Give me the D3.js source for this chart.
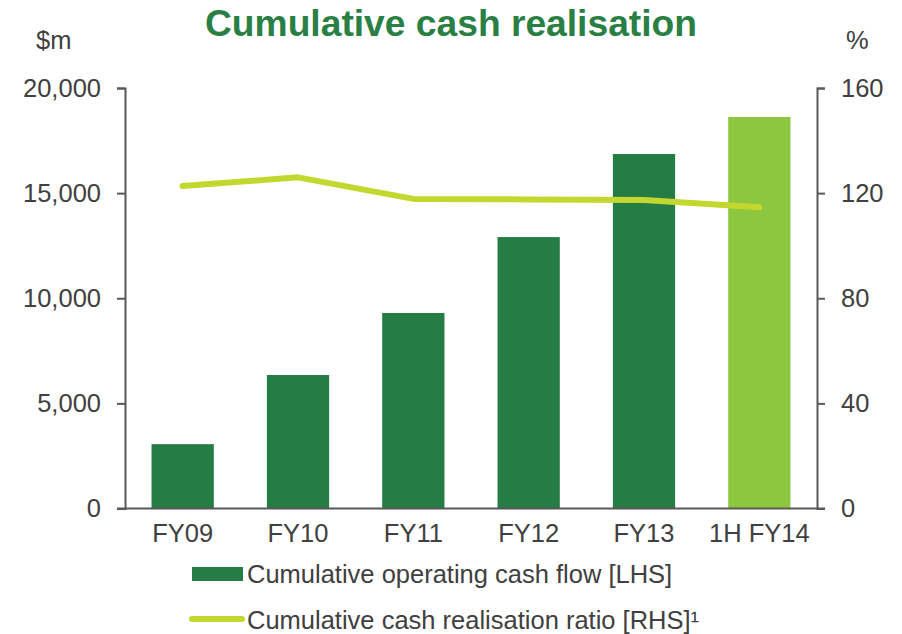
<!DOCTYPE html>
<html>
<head>
<meta charset="utf-8">
<script src="https://cdn.jsdelivr.net/npm/d3@7"></script>
<style>
  body { margin: 0; background: #fff; }
  svg text { font-family: "Liberation Sans", Arial, sans-serif; fill: #404040; }
</style>
</head>
<body>
<div id="chart"></div>
<script>
let categories = ["FY09", "FY10", "FY11", "FY12", "FY13", "1H FY14"];
let cash_flow = [3060, 6350, 9300, 12910, 16860, 18620];
let realisation_ratio = [122.7, 126.0, 117.8, 117.6, 117.4, 114.6];
let left_ticks = [0, 5000, 10000, 15000, 20000];
let right_ticks = [0, 40, 80, 120, 160];

let chart_width = 902;
let chart_height = 634;

let margin_top = 88;
let margin_left = 125;
let margin_right = 85;
let margin_bottom = 125.5;

let width = chart_width - margin_left - margin_right;
let height = chart_height - margin_top - margin_bottom;

let font_size = "25.5px";
let bar_color = "#267c45";
let bar_color_last = "#8dc63f";
let line_color = "#c3d82e";
let axis_color = "#595959";

let svg = d3.select("#chart")
    .append("svg")
    .attr("width", chart_width)
    .attr("height", chart_height);

let g = svg.append("g")
    .attr("transform", "translate(" + margin_left + "," + margin_top + ")");

let xScale = d3.scaleBand()
    .domain(categories)
    .range([0, width])
    .paddingInner(0.46)
    .paddingOuter(0.23);

let yLeft = d3.scaleLinear().domain([0, 20000]).range([height, 0]);
let yRight = d3.scaleLinear().domain([0, 160]).range([height, 0]);

// bars
g.selectAll(".bar")
    .data(categories)
    .enter()
    .append("rect")
    .attr("class", "bar")
    .attr("x", d => xScale(d))
    .attr("width", xScale.bandwidth())
    .attr("y", (d, i) => yLeft(cash_flow[i]))
    .attr("height", (d, i) => height - yLeft(cash_flow[i]))
    .style("fill", (d, i) => i === categories.length - 1 ? bar_color_last : bar_color);

// axes
let left_axis = g.append("g")
    .call(d3.axisLeft(yLeft).tickValues(left_ticks).tickSize(8).tickPadding(16)
        .tickFormat(d3.format(",")));

let right_axis = g.append("g")
    .attr("transform", "translate(" + width + ",0)")
    .call(d3.axisRight(yRight).tickValues(right_ticks).tickSize(8).tickPadding(16));

let x_axis = g.append("g")
    .attr("transform", "translate(0," + height + ")")
    .call(d3.axisBottom(xScale).tickSize(0).tickPadding(15));

// baseline runs out to the tick stubs on both sides
x_axis.select(".domain").remove();
g.append("line")
    .attr("x1", -8).attr("x2", width + 8)
    .attr("y1", height).attr("y2", height)
    .attr("stroke", axis_color).attr("stroke-width", 2);

[left_axis, right_axis, x_axis].forEach(a => {
    a.selectAll(".domain").attr("stroke", axis_color).attr("stroke-width", 2);
    a.selectAll(".tick line").attr("stroke", axis_color).attr("stroke-width", 2);
    a.selectAll("text")
        .style("font-family", "\"Liberation Sans\", Arial, sans-serif")
        .style("font-size", font_size)
        .style("fill", "#404040");
});
x_axis.selectAll("text").attr("dy", "0.71em");

// ratio line
let line = d3.line()
    .x((d, i) => xScale(categories[i]) + xScale.bandwidth() / 2)
    .y(d => yRight(d));

g.append("path")
    .datum(realisation_ratio)
    .attr("d", line)
    .attr("fill", "none")
    .attr("stroke", line_color)
    .attr("stroke-width", 6)
    .attr("stroke-linecap", "round")
    .attr("stroke-linejoin", "round");

// title and unit labels
svg.append("text")
    .attr("x", 205)
    .attr("y", 36)
    .attr("textLength", 492)
    .attr("lengthAdjust", "spacingAndGlyphs")
    .style("font-size", "36px")
    .style("font-weight", "bold")
    .style("fill", "#2a7f45")
    .text("Cumulative cash realisation");

svg.append("text")
    .attr("x", 36).attr("y", 49)
    .style("font-size", font_size)
    .text("$m");

svg.append("text")
    .attr("x", 846).attr("y", 49)
    .style("font-size", font_size)
    .text("%");

// legend
let legend = svg.append("g");

legend.append("rect")
    .attr("x", 192).attr("y", 567)
    .attr("width", 51).attr("height", 14)
    .style("fill", bar_color);

legend.append("text")
    .attr("x", 247).attr("y", 583)
    .style("font-size", font_size)
    .text("Cumulative operating cash flow [LHS]");

legend.append("line")
    .attr("x1", 192).attr("x2", 242)
    .attr("y1", 619).attr("y2", 619)
    .attr("stroke", line_color)
    .attr("stroke-width", 6)
    .attr("stroke-linecap", "round");

legend.append("text")
    .attr("x", 247).attr("y", 629)
    .style("font-size", font_size)
    .text("Cumulative cash realisation ratio [RHS]¹");
</script>
</body>
</html>
